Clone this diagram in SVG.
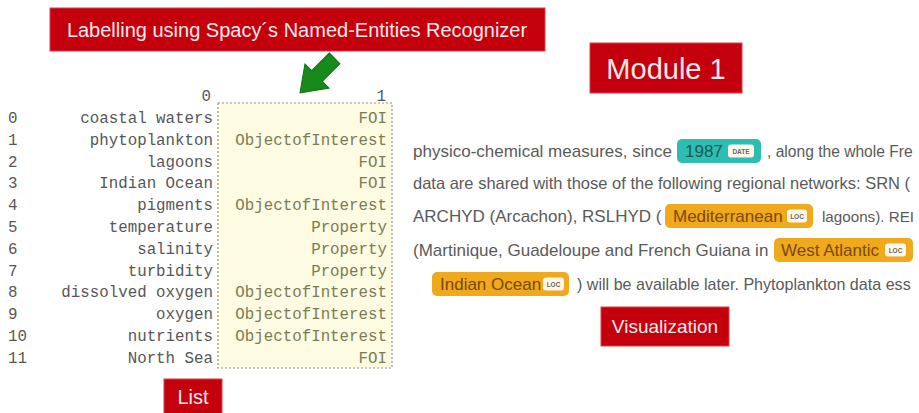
<svg xmlns="http://www.w3.org/2000/svg" width="919" height="413" viewBox="0 0 919 413">
  <style>
    .redbox { fill: #c4000d; stroke: #d84048; stroke-width: 1; }
    .redtxt { font-family: "Liberation Sans", Arial, sans-serif; fill: #fbe9ea; text-anchor: middle; }
    .mono { font-family: "Liberation Mono", "DejaVu Sans Mono", monospace; font-size: 15.8px; fill: #575757; }
    .idx { text-anchor: start; }
    .c0 { text-anchor: end; }
    .c1 { text-anchor: end; fill: #7b7b55; }
    .body { font-family: "Liberation Sans", Arial, sans-serif; font-size: 17px; fill: #5a5a5a; }
    .tag-date { fill: #2dbdb3; }
    .tag-loc { fill: #f0a81c; }
    .tagtxt { font-family: "Liberation Sans", Arial, sans-serif; font-size: 17px; }
    .tt-date { fill: #1c5a55; }
    .tt-loc { fill: #7a4a08; }
    .badge { fill: #fff8ea; }
    .badgetxt { font-family: "Liberation Sans", Arial, sans-serif; font-size: 6.5px; font-weight: bold; fill: #666; text-anchor: middle; }
  </style>
  <rect width="919" height="413" fill="#ffffff"/>

  <!-- title banner -->
  <g id="banner">
    <rect class="redbox" x="50" y="8" width="495" height="43"/>
    <text class="redtxt" x="297" y="37" font-size="20">Labelling using Spacy´s Named-Entities Recognizer</text>
  </g>

  <!-- connectors -->
  <g id="connectors">
    <path d="M0,-7.5 L25,-7.5 L25,-17 L49,0 L25,17 L25,7.5 L0,7.5 Z" fill="#178a1c" stroke="#0f6e14" stroke-width="1"
          transform="translate(300,93) rotate(135) translate(-49,0)"/>
  </g>

  <!-- entity table -->
  <g id="table">
    <rect x="218" y="103" width="174" height="265" fill="#fdfbe1" stroke="#9c957c" stroke-width="1.2" stroke-dasharray="2,2"/>
    <text class="mono c0" x="211" y="101">0</text>
    <text class="mono c1" x="386" y="101" style="fill:#575757">1</text>
    <g class="mono idx">
      <text x="8" y="123">0</text>
      <text x="8" y="144.8">1</text>
      <text x="8" y="166.6">2</text>
      <text x="8" y="188.4">3</text>
      <text x="8" y="210.2">4</text>
      <text x="8" y="232">5</text>
      <text x="8" y="253.8">6</text>
      <text x="8" y="275.6">7</text>
      <text x="8" y="297.4">8</text>
      <text x="8" y="319.2">9</text>
      <text x="8" y="341">10</text>
      <text x="8" y="362.8">11</text>
    </g>
    <g class="mono c0">
      <text x="213" y="123">coastal waters</text>
      <text x="213" y="144.8">phytoplankton</text>
      <text x="213" y="166.6">lagoons</text>
      <text x="213" y="188.4">Indian Ocean</text>
      <text x="213" y="210.2">pigments</text>
      <text x="213" y="232">temperature</text>
      <text x="213" y="253.8">salinity</text>
      <text x="213" y="275.6">turbidity</text>
      <text x="213" y="297.4">dissolved oxygen</text>
      <text x="213" y="319.2">oxygen</text>
      <text x="213" y="341">nutrients</text>
      <text x="213" y="362.8">North Sea</text>
    </g>
    <g class="mono c1">
      <text x="387" y="123">FOI</text>
      <text x="387" y="144.8">ObjectofInterest</text>
      <text x="387" y="166.6">FOI</text>
      <text x="387" y="188.4">FOI</text>
      <text x="387" y="210.2">ObjectofInterest</text>
      <text x="387" y="232">Property</text>
      <text x="387" y="253.8">Property</text>
      <text x="387" y="275.6">Property</text>
      <text x="387" y="297.4">ObjectofInterest</text>
      <text x="387" y="319.2">ObjectofInterest</text>
      <text x="387" y="341">ObjectofInterest</text>
      <text x="387" y="362.8">FOI</text>
    </g>
  </g>

  <!-- module heading -->
  <g id="module1">
    <rect class="redbox" x="590" y="43" width="152" height="50"/>
    <text class="redtxt" x="666" y="79" font-size="29">Module 1</text>
  </g>

  <!-- highlighted text -->
  <g id="visual-text">
    <text class="body" x="413" y="157">physico-chemical measures, since</text>
    <rect class="tag-date" x="677" y="139" width="84" height="24" rx="5"/>
    <text class="tagtxt tt-date" x="685" y="157">1987</text>
    <rect class="badge" x="728" y="144.5" width="26" height="13" rx="3"/>
    <text class="badgetxt" x="741" y="153.5">DATE</text>
    <text class="body" x="767" y="157" style="font-size:15.6px">, along the whole Fre</text>

    <text class="body" x="413" y="189" style="font-size:16.5px">data are shared with those of the following regional networks: SRN (</text>

    <text class="body" x="413" y="222">ARCHYD (Arcachon), RSLHYD (</text>
    <rect class="tag-loc" x="665" y="204" width="148" height="24" rx="5"/>
    <text class="tagtxt tt-loc" x="673" y="222">Mediterranean</text>
    <rect class="badge" x="787" y="209.5" width="20" height="13" rx="3"/>
    <text class="badgetxt" x="797" y="218.5">LOC</text>
    <text class="body" x="822" y="222" style="font-size:15.2px">lagoons). REI</text>

    <text class="body" x="413" y="256">(Martinique, Guadeloupe and French Guiana in</text>
    <rect class="tag-loc" x="774" y="238" width="139" height="24" rx="5"/>
    <text class="tagtxt tt-loc" x="781" y="256">West Atlantic</text>
    <rect class="badge" x="885" y="243.5" width="21" height="13" rx="3"/>
    <text class="badgetxt" x="895.5" y="252.5">LOC</text>

    <rect class="tag-loc" x="432" y="272" width="137" height="24" rx="5"/>
    <text class="tagtxt tt-loc" x="440" y="290">Indian Ocean</text>
    <rect class="badge" x="543" y="277.5" width="21" height="13" rx="3"/>
    <text class="badgetxt" x="553.5" y="286.5">LOC</text>
    <text class="body" x="577" y="290" style="font-size:16.1px">) will be available later. Phytoplankton data ess</text>
  </g>

  <!-- visualization heading -->
  <g id="visualization">
    <rect class="redbox" x="601" y="307" width="128" height="39"/>
    <text class="redtxt" x="665" y="333" font-size="19">Visualization</text>
  </g>

  <!-- list heading -->
  <g id="list">
    <rect class="redbox" x="164" y="379" width="58" height="36"/>
    <text class="redtxt" x="193" y="404" font-size="20">List</text>
  </g>
</svg>
